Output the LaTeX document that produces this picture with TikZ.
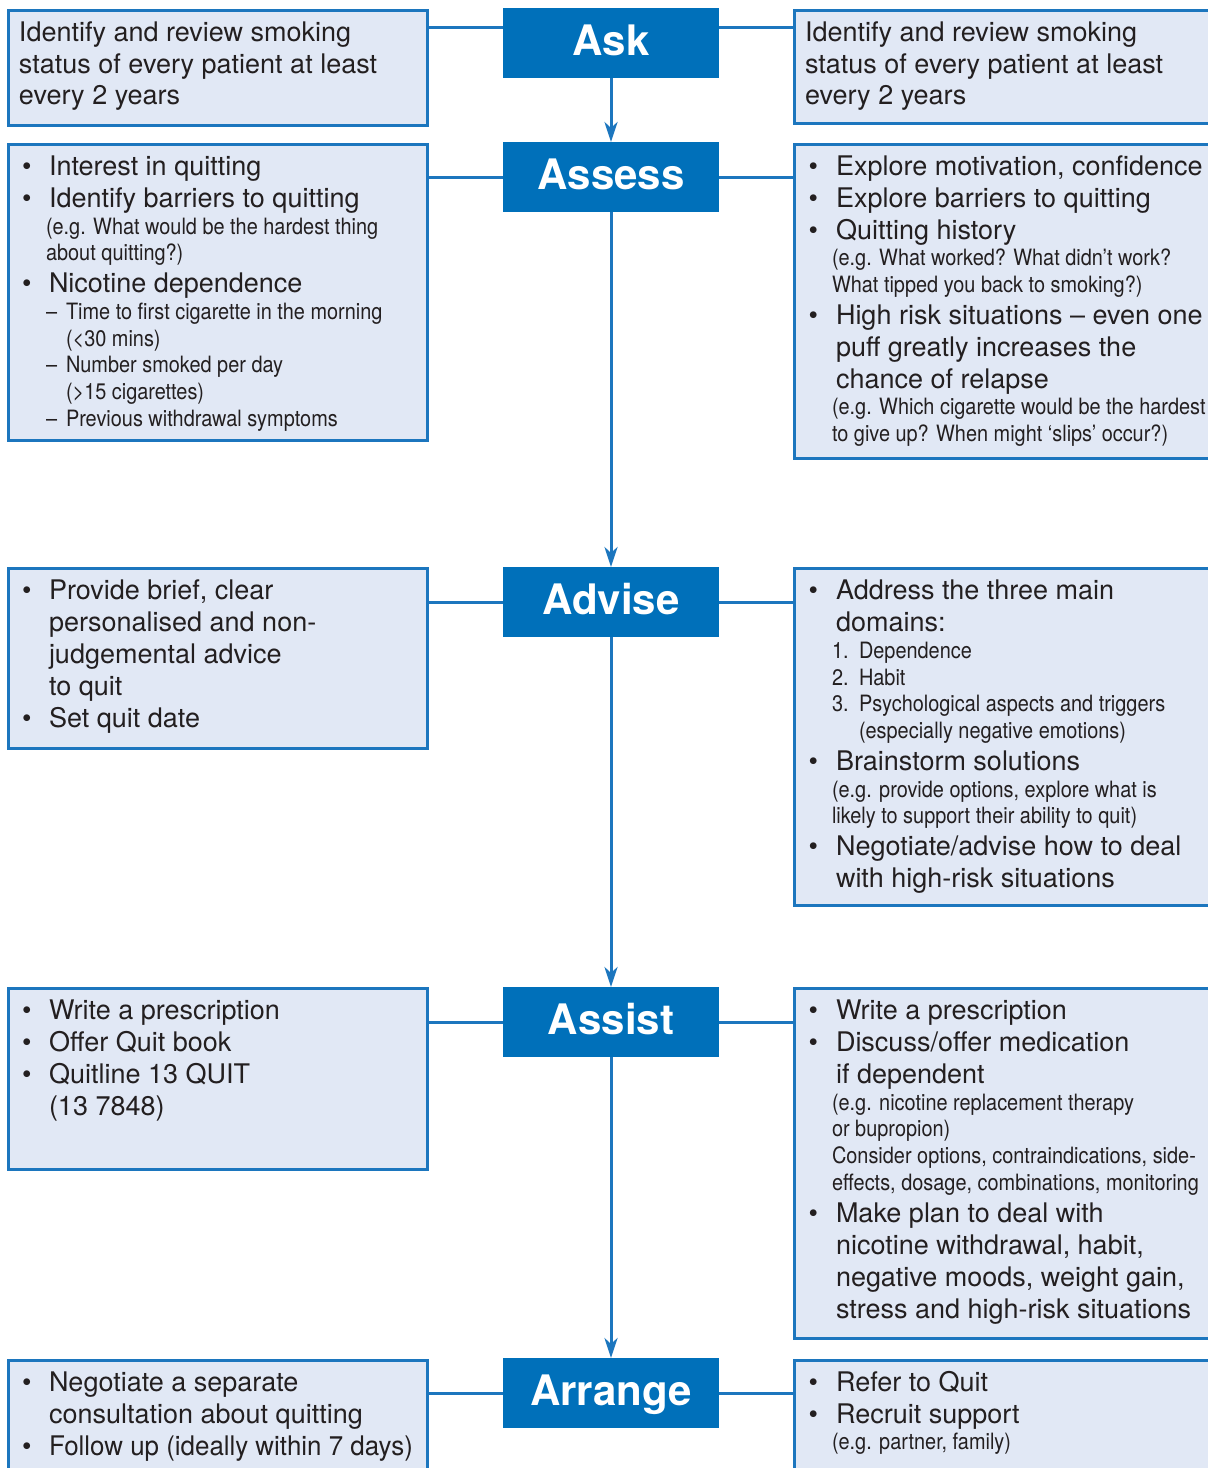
\documentclass[tikz,border=0pt]{standalone}
\usepackage{fontspec}
\setmainfont{TeX Gyre Heros}
\newfontfamily\smallfam[FakeStretch=0.885]{TeX Gyre Heros}
\newfontfamily\narrowbig[FakeStretch=0.96]{TeX Gyre Heros}
\usetikzlibrary{arrows.meta}
\definecolor{tgray}{HTML}{231F20}
\definecolor{bblue}{HTML}{1C76BE}
\definecolor{bfill}{HTML}{E1E8F5}
\definecolor{cblue}{HTML}{0070BA}
\newcommand\bigf{\fontsize{27pt}{32pt}\selectfont}
\newcommand\smallf{\smallfam\fontsize{22.5pt}{26pt}\selectfont}
\newcommand\labf{\bfseries\fontsize{42pt}{48pt}\selectfont}
\newcounter{lnc}
\newcommand\LB[3]{\stepcounter{lnc}\node[bigt] (ln\arabic{lnc}) at (#1,#2) {#3};}
\newcommand\LS[3]{\stepcounter{lnc}\node[smallt] (ln\arabic{lnc}) at (#1,#2) {#3};}
\begin{document}
\begin{tikzpicture}[x=1pt,y=-1pt,
  sidebox/.style={draw=bblue,fill=bfill,line width=2.7pt,rectangle,inner sep=0pt,outer sep=0pt},
  stepbox/.style={fill=cblue,rectangle,minimum width=216pt,minimum height=70pt,inner sep=0pt,outer sep=0pt,
     text=white,font=\labf,text height=30pt,text depth=6pt},
  conn/.style={draw=bblue,line width=3pt},
  arr/.style={conn,-{Stealth[length=20pt,width=13pt,inset=6pt]}},
  bigt/.style={anchor=base west,inner sep=0pt,outer sep=0pt,font=\bigf,text=tgray},
  smallt/.style={anchor=base west,inner sep=0pt,outer sep=0pt,font=\smallf,text=tgray}]
\useasboundingbox (0,0) rectangle (1208,1468);
\clip (0,0) rectangle (1208,1468);

% side boxes
\node[sidebox,minimum width=419.3pt,minimum height=115.3pt] (LAsk) at (218,68) {};
\node[sidebox,minimum width=430pt,minimum height=113.3pt] (RAsk) at (1009.35,67) {};
\node[sidebox,minimum width=419.3pt,minimum height=296.3pt] (LAssess) at (218,292.5) {};
\node[sidebox,minimum width=430pt,minimum height=314.3pt] (RAssess) at (1009.35,301.5) {};
\node[sidebox,minimum width=419.3pt,minimum height=180.3pt] (LAdvise) at (218,658.5) {};
\node[sidebox,minimum width=430pt,minimum height=337.3pt] (RAdvise) at (1009.35,737) {};
\node[sidebox,minimum width=419.3pt,minimum height=181.3pt] (LAssist) at (218,1079) {};
\node[sidebox,minimum width=430pt,minimum height=350.3pt] (RAssist) at (1009.35,1163.5) {};
\node[sidebox,minimum width=419.3pt,minimum height=140pt] (LArrange) at (218,1430.35) {};
\node[sidebox,minimum width=430pt,minimum height=140pt] (RArrange) at (1009.35,1430.35) {};

% step boxes
\node[stepbox] (Ask) at (611,43) {Ask};
\node[stepbox] (Assess) at (611,177) {Assess};
\node[stepbox] (Advise) at (611,602) {Advise};
\node[stepbox] (Assist) at (611,1022) {Assist};
\node[stepbox] (Arrange) at (611,1393) {Arrange};

% connectors
\draw[conn] (LAsk.east |- 0,27) -- (Ask.west |- 0,27);
\draw[conn] (Ask.east |- 0,27) -- (RAsk.west |- 0,27);
\draw[conn] (LAssess.east |- Assess.west) -- (Assess.west);
\draw[conn] (Assess.east) -- (RAssess.west |- Assess.east);
\draw[conn] (LAdvise.east |- Advise.west) -- (Advise.west);
\draw[conn] (Advise.east) -- (RAdvise.west |- Advise.east);
\draw[conn] (LAssist.east |- Assist.west) -- (Assist.west);
\draw[conn] (Assist.east) -- (RAssist.west |- Assist.east);
\draw[conn] (LArrange.east |- Arrange.west) -- (Arrange.west);
\draw[conn] (Arrange.east) -- (RArrange.west |- Arrange.east);
\draw[arr] (Ask.south) -- (Assess.north);
\draw[arr] (Assess.south) -- (Advise.north);
\draw[arr] (Advise.south) -- (Assist.north);
\draw[arr] (Assist.south) -- (Arrange.north);

% Ask texts
\LB{19}{41}{Identify and review smoking}
\LB{19}{73}{status of every patient at least}
\LB{19}{104}{every 2 years}
\LB{805}{41}{Identify and review smoking}
\LB{805}{73}{status of every patient at least}
\LB{805}{104}{every 2 years}

% Assess left
\LB{22}{175.5}{•}\LB{49}{175.5}{Interest in quitting}
\LB{22}{207.5}{•}\LB{49}{207.5}{Identify barriers to quitting}
\LS{46}{234}{(e.g. What would be the hardest thing}
\LS{46}{260}{about quitting?)}
\LB{22}{292.5}{•}\LB{49}{292.5}{Nicotine dependence}
\LS{46}{319}{–}\LS{66}{319}{Time to first cigarette in the morning}
\LS{66}{346}{(<30 mins)}
\LS{46}{372}{–}\LS{66}{372}{Number smoked per day}
\LS{66}{399}{(>15 cigarettes)}
\LS{46}{426}{–}\LS{66}{426}{Previous withdrawal symptoms}

% Assess right
\LB{808.5}{175.5}{•}\LB{836}{175.5}{Explore motivation, confidence}
\LB{808.5}{207.5}{•}\LB{836}{207.5}{Explore barriers to quitting}
\LB{808.5}{239.5}{•}\LB{836}{239.5}{Quitting history}
\LS{832}{265}{(e.g. What worked? What didn’t work?}
\LS{832}{292}{What tipped you back to smoking?)}
\LB{808.5}{324.5}{•}\LB{836}{324.5}{High risk situations – even one}
\LB{836}{356.5}{puff greatly increases the}
\LB{836}{388.5}{chance of relapse}
\LS{832}{414}{(e.g. Which cigarette would be the hardest}
\LS{832}{441}{to give up? When might ‘slips’ occur?)}

% Advise left
\LB{22}{599.5}{•}\LB{49}{599.5}{Provide brief, clear}
\LB{49}{631.5}{personalised and non-}
\LB{49}{663.5}{judgemental advice}
\LB{49}{695.5}{to quit}
\LB{22}{727.5}{•}\LB{49}{727.5}{Set quit date}

% Advise right
\LB{808.5}{599.5}{•}\LB{836}{599.5}{Address the three main}
\LB{836}{631.5}{domains:}
\LS{832}{658}{1.}\LS{859}{658}{Dependence}
\LS{832}{685}{2.}\LS{859}{685}{Habit}
\LS{832}{711}{3.}\LS{859}{711}{Psychological aspects and triggers}
\LS{859}{738}{(especially negative emotions)}
\LB{808.5}{770.5}{•}\LB{836}{770.5}{Brainstorm solutions}
\LS{832}{797}{(e.g. provide options, explore what is}
\LS{832}{823}{likely to support their ability to quit)}
\LB{808.5}{855.5}{•}\LB{836}{855.5}{Negotiate/advise how to deal}
\LB{836}{887.5}{with high-risk situations}

% Assist left
\LB{22}{1019.5}{•}\LB{49}{1019.5}{Write a prescription}
\LB{22}{1051.5}{•}\LB{49}{1051.5}{Offer Quit book}
\LB{22}{1083.5}{•}\LB{49}{1083.5}{Quitline 13 QUIT}
\LB{49}{1115.5}{(13 7848)}

% Assist right
\LB{808.5}{1019.5}{•}\LB{836}{1019.5}{Write a prescription}
\LB{808.5}{1051.5}{•}\LB{836}{1051.5}{Discuss/offer medication}
\LB{836}{1083.5}{if dependent}
\LS{832}{1110}{(e.g. nicotine replacement therapy}
\LS{832}{1136}{or bupropion)}
\LS{832}{1163}{Consider options, contraindications, side-}
\LS{832}{1190}{effects, dosage, combinations, monitoring}
\LB{808.5}{1222.5}{•}\LB{836}{1222.5}{Make plan to deal with}
\LB{836}{1254.5}{nicotine withdrawal, habit,}
\LB{836}{1286.5}{negative moods, weight gain,}
\LB{836}{1318.5}{stress and high-risk situations}

% Arrange left
\LB{22}{1391.5}{•}\LB{49}{1391.5}{Negotiate a separate}
\LB{49}{1423.5}{consultation about quitting}
\LB{22}{1455.5}{•}\LB{49}{1455.5}{\narrowbig Follow up (ideally within 7 days)}

% Arrange right
\LB{808.5}{1391.5}{•}\LB{836}{1391.5}{Refer to Quit}
\LB{808.5}{1423.5}{•}\LB{836}{1423.5}{Recruit support}
\LS{832}{1449}{(e.g. partner, family)}
\end{tikzpicture}
\end{document}
